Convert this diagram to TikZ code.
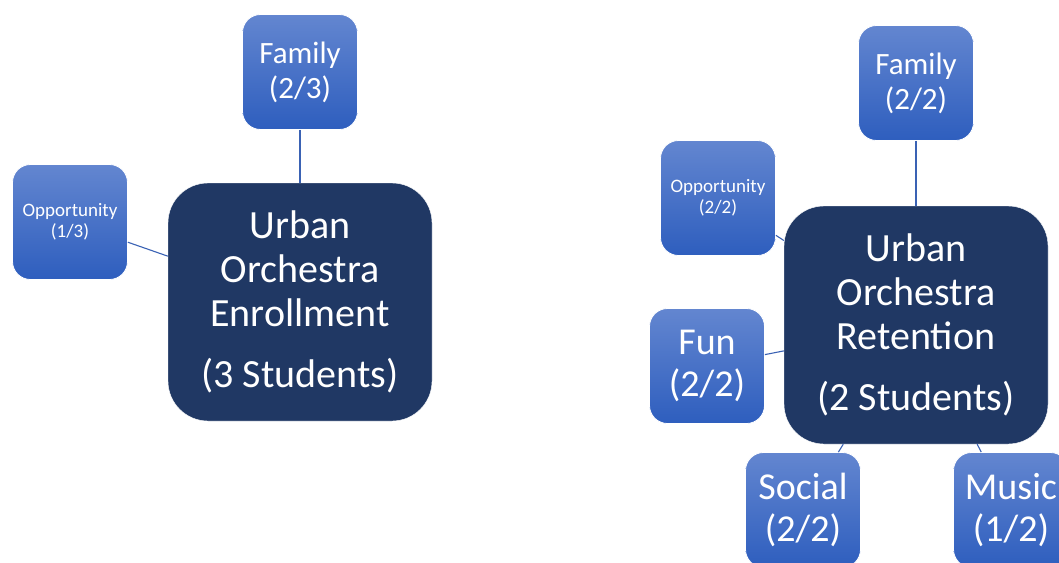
\documentclass[tikz,border=0pt]{standalone}
\usepackage{fontspec}
\setmainfont{Carlito}
\definecolor{navy}{RGB}{32,56,100}
\definecolor{boxtop}{RGB}{99,134,208}
\definecolor{boxbot}{RGB}{46,94,190}
\definecolor{link}{RGB}{58,98,180}
\begin{document}
\begin{tikzpicture}[x=1pt, y=-1pt, align=center]
\tikzstyle{m} = [rectangle, rounded corners=40pt, fill=navy, draw=white, text=white, minimum width=264pt, minimum height=238pt, font=\fontsize{40}{44}\selectfont]
\tikzstyle{s} = [rectangle, rounded corners=18pt, top color=boxtop, bottom color=boxbot, draw=white, line width=0.8pt, text=white, minimum width=115pt, minimum height=115pt, font=\fontsize{31}{35}\selectfont]
\tikzstyle{t} = [font=\fontsize{19}{21}\selectfont]
\tikzstyle{b} = [font=\fontsize{38}{42}\selectfont]
\tikzstyle{e} = [draw=link, line width=1.1pt]

\useasboundingbox (0,0) rectangle (1059,562);
\clip (0,0) rectangle (1059,562);

% enrollment
\node[m] (E) at (300, 302) {Urban\\Orchestra\\Enrollment\\[17pt](3 Students)};
\node[s] (EF) at (300, 72) {Family\\(2/3)};
\node[s, t] (EO) at (70, 222) {Opportunity\\(1/3)};

% retention
\node[m] (R) at (916, 325) {Urban\\Orchestra\\Retention\\[17pt](2 Students)};
\node[s] (RF) at (916, 83) {Family\\(2/2)};
\node[s, t] (RO) at (718, 198) {Opportunity\\(2/2)};
\node[s, b] (RFu) at (707, 366) {Fun\\(2/2)};
\node[s, b] (RS) at (803, 510) {Social\\(2/2)};
\node[s, b] (RM) at (1011, 510) {Music\\(1/2)};

\draw[e] (EF) to (E);
\draw[e] (EO) to (E);
\draw[e] (RF) to (R);
\draw[e] (RO) to (R);
\draw[e] (RFu) to (R);
\draw[e] (RS) to (R);
\draw[e] (RM) to (R);
\end{tikzpicture}
\end{document}
